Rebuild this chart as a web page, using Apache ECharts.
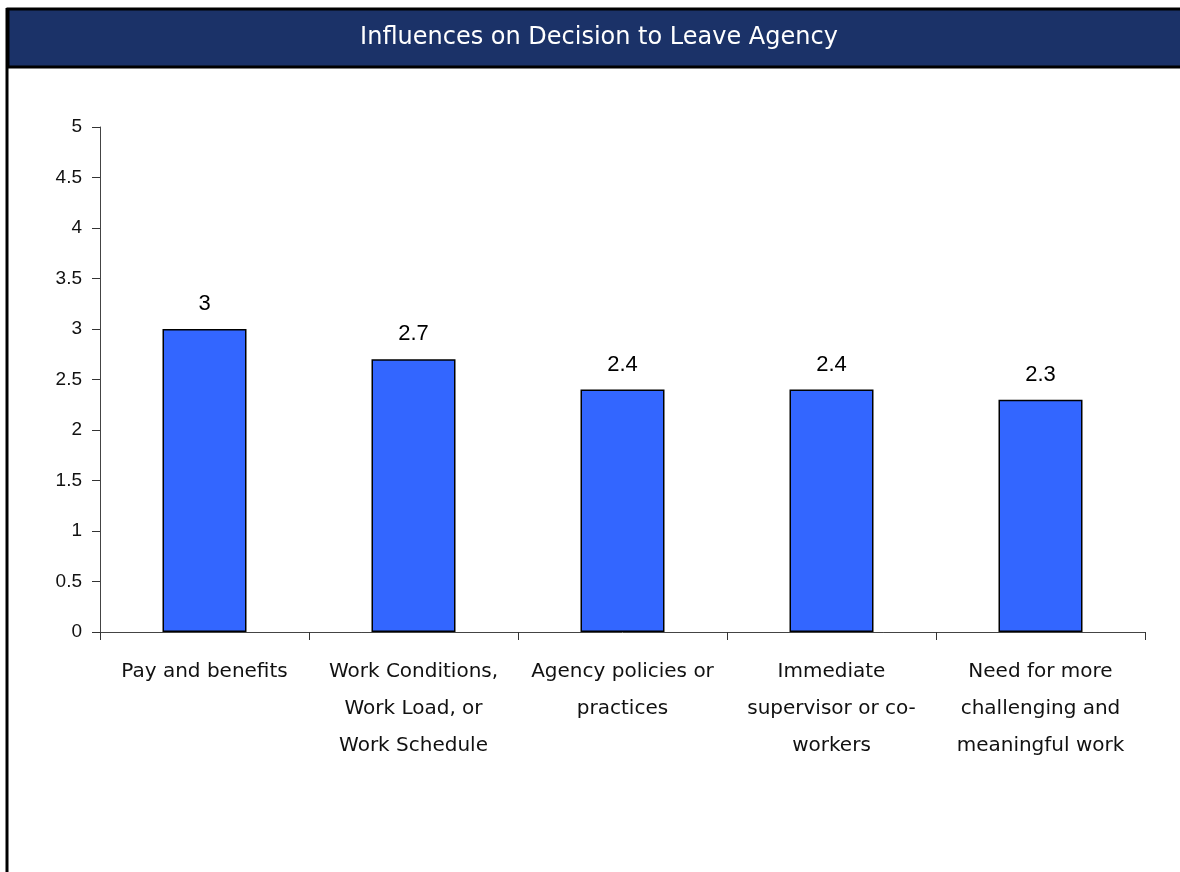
<!DOCTYPE html>
<html>
<head>
<meta charset="utf-8">
<script src="https://cdn.jsdelivr.net/npm/echarts@6/dist/echarts.min.js"></script>
<style>
  html, body { margin: 0; padding: 0; background: #fff; }
  #chart { width: 1180px; height: 872px; }
</style>
</head>
<body>
<div id="chart"></div>
<script>
  // categories along the x axis
  var reasons = [
    'Pay and benefits',
    'Work Conditions,\nWork Load, or\nWork Schedule',
    'Agency policies or\npractices',
    'Immediate\nsupervisor or co-\nworkers',
    'Need for more\nchallenging and\nmeaningful work'
  ];
  // average rating per reason
  var ratings = [3, 2.7, 2.4, 2.4, 2.3];

  var chart = echarts.init(document.getElementById('chart'));
  chart.setOption({
    animation: false,
    graphic: [
      {
        type: 'rect',
        shape: { x: 8, y: 9, width: 1190, height: 58 },
        style: { fill: '#1b3268', stroke: '#000', lineWidth: 3 },
        z: 1
      },
      {
        type: 'line',
        shape: { x1: 7, y1: 8, x2: 7, y2: 880 },
        style: { stroke: '#000', lineWidth: 3 },
        z: 2
      },
      {
        type: 'text',
        x: 599,
        y: 38,
        style: {
          text: 'Influences on Decision to Leave Agency',
          fill: '#fff',
          font: '24px "DejaVu Sans"',
          align: 'center',
          verticalAlign: 'middle'
        },
        z: 3
      }
    ],
    grid: { left: 100, right: 35, top: 127, bottom: 240 },
    xAxis: {
      type: 'category',
      data: reasons,
      axisLine: { lineStyle: { color: '#444', width: 1 } },
      axisTick: { show: true, length: 8, lineStyle: { color: '#333' } },
      axisLabel: {
        interval: 0,
        margin: 21,
        fontFamily: 'DejaVu Sans',
        fontSize: 20,
        lineHeight: 37,
        color: '#111'
      }
    },
    yAxis: {
      type: 'value',
      min: 0,
      max: 5,
      interval: 0.5,
      splitLine: { show: false },
      axisLine: { show: true, lineStyle: { color: '#444', width: 1 } },
      axisTick: { show: true, length: 8, lineStyle: { color: '#333' } },
      axisLabel: {
        margin: 18,
        fontFamily: 'Liberation Sans',
        fontSize: 19,
        color: '#111'
      }
    },
    series: [
      {
        type: 'bar',
        data: ratings,
        barWidth: 84,
        itemStyle: { color: '#3366ff', borderColor: '#000', borderWidth: 1.5 },
        label: {
          show: true,
          position: 'top',
          distance: 14,
          fontFamily: 'Liberation Sans',
          fontSize: 22,
          color: '#000'
        }
      }
    ]
  });
</script>
</body>
</html>
